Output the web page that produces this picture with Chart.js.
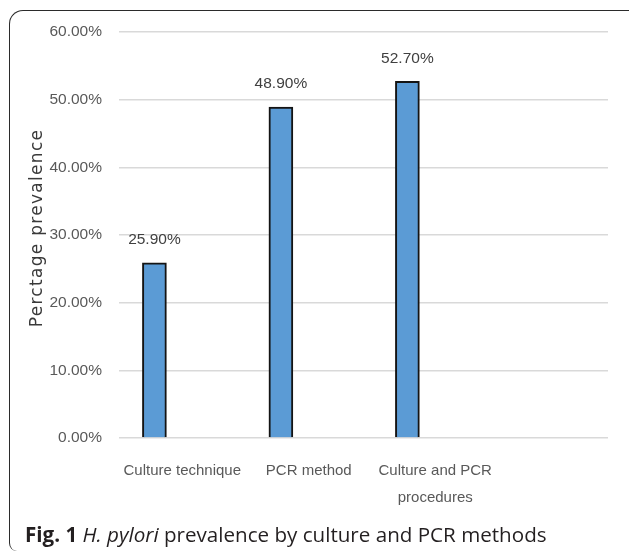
<!DOCTYPE html>
<html>
<head>
<meta charset="utf-8">
<script src="https://cdn.jsdelivr.net/npm/chart.js@4.4.1/dist/chart.umd.min.js"></script>
<style>
  html, body { margin: 0; padding: 0; background: #ffffff; }
  #wrap { position: relative; width: 629px; height: 554px; overflow: hidden; background: #ffffff; }
  #frame {
    position: absolute; left: 9px; top: 10px; width: 660px; height: 541px;
    border-left: 1.6px solid #2b2b2b; border-top: 1.6px solid #2b2b2b;
    border-top-left-radius: 14px; border-bottom-left-radius: 8px;
    box-sizing: border-box;
  }
  #chart { position: absolute; left: 0; top: 0; }
  #caption {
    position: absolute; left: 25px; top: 522px;
    font-family: "Open Sans", "Noto Sans", sans-serif; font-size: 20.6px;
    color: #231f20; white-space: nowrap; line-height: 24px;
  }
  #caption b { font-weight: 700; }
</style>
</head>
<body>
<div id="wrap">
  <div id="frame"></div>
  <canvas id="chart" width="629" height="554"></canvas>
  <div id="caption"><b>Fig. 1</b> <i>H. pylori</i> prevalence by culture and PCR methods</div>
</div>
<script>
// Detection methods and their prevalence (%)
const categories = ["Culture technique", "PCR method", ["Culture and PCR", "procedures"]];
const prevalence = [25.9, 48.9, 52.7];
const yTicks = [0, 10, 20, 30, 40, 50, 60];
const yTitle = "Perctage prevalence";

// bars sit in the left half of each category slot (second clustered series is empty)
const BAR_SHIFT = -0.22;

const labelFont = '"Liberation Sans", Arial, sans-serif';

// value text above each bar
const valueLabels = {
  id: 'valueLabels',
  afterDatasetsDraw(chart) {
    const ctx = chart.ctx;
    const meta = chart.getDatasetMeta(0);
    ctx.save();
    ctx.font = '15.5px ' + labelFont;
    ctx.fillStyle = '#404040';
    ctx.textAlign = 'center';
    ctx.textBaseline = 'middle';
    meta.data.forEach((bar, i) => {
      ctx.fillText(prevalence[i].toFixed(2) + '%', bar.x, bar.y - 23);
    });
    ctx.restore();
  }
};

// rotated, letter-spaced value-axis title
const axisTitle = {
  id: 'axisTitle',
  afterDraw(chart) {
    const ctx = chart.ctx;
    const area = chart.chartArea;
    ctx.save();
    ctx.translate(38, (area.top + area.bottom) / 2 - 7);
    ctx.rotate(-Math.PI / 2);
    ctx.font = '17px "DejaVu Sans", sans-serif';
    if ('letterSpacing' in ctx) ctx.letterSpacing = '1.3px';
    ctx.fillStyle = '#3a3a3a';
    ctx.textAlign = 'center';
    ctx.textBaseline = 'middle';
    ctx.fillText(yTitle, 0, 0);
    ctx.restore();
  }
};

new Chart(document.getElementById('chart'), {
  type: 'bar',
  data: {
    datasets: [{
      data: prevalence.map((v, i) => ({ x: i + BAR_SHIFT, y: v })),
      backgroundColor: '#5b9bd5',
      borderColor: '#141414',
      borderWidth: 2,
      barThickness: 24
    }]
  },
  plugins: [valueLabels, axisTitle],
  options: {
    responsive: false,
    animation: false,
    layout: { padding: { left: 0, top: 32, right: 21, bottom: 36 } },
    plugins: { legend: { display: false }, tooltip: { enabled: false } },
    scales: {
      x: {
        type: 'linear',
        offset: false,
        min: -0.5,
        max: 3.366,
        grid: { display: false, offset: false },
        border: { display: false },
        afterBuildTicks(scale) { scale.ticks = categories.map((_, i) => ({ value: i })); },
        afterFit(scale) { scale.height = 80; },
        ticks: {
          autoSkip: false,
          maxRotation: 0,
          padding: 11,
          color: '#595959',
          font: { family: labelFont, size: 15, lineHeight: 1.8 },
          callback: (v) => categories[v]
        }
      },
      y: {
        min: 0,
        max: 60,
        afterBuildTicks(scale) { scale.ticks = yTicks.map(v => ({ value: v })); },
        afterFit(scale) { scale.width = 119; },
        grid: { color: '#d9d9d9', lineWidth: 1.6, drawTicks: false },
        border: { display: false },
        ticks: {
          padding: 17,
          color: '#595959',
          font: { family: labelFont, size: 15.5 },
          callback: (v) => v.toFixed(2) + '%'
        }
      }
    }
  }
});
</script>
</body>
</html>
